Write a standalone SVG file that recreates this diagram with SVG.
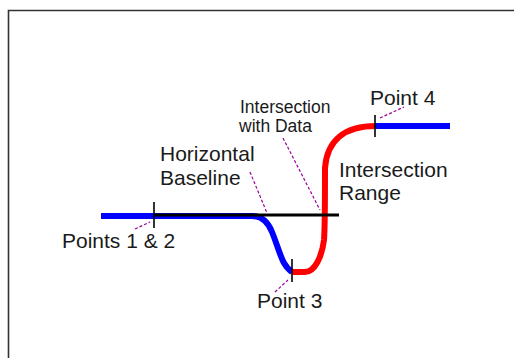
<svg xmlns="http://www.w3.org/2000/svg" width="514" height="358" viewBox="0 0 514 358">
<style>
text{font-family:"Liberation Sans",Arial,sans-serif;fill:#1a1a1a}
.big{font-size:21px}
.small{font-size:17.5px}
.blue{fill:none;stroke:#0000ff;stroke-width:6}
.red{fill:none;stroke:#ff0000;stroke-width:6}
.tick{stroke:#000;stroke-width:1.6}
.lead{stroke:#990099;stroke-width:1.2;stroke-dasharray:3 2;fill:none}
</style>
<rect x="0" y="0" width="514" height="358" fill="#fff"/>
<path d="M8.5 360 V10.5 H520" fill="none" stroke="#333" stroke-width="1.6"/>
<g id="curve">
<path class="blue" d="M101 216 H252 C262 216 268 222 272 232 C277 244 280 256 284 263 C287 268 289 270 292 272"/>
<path class="red" d="M292 272 H305 C315 272 322 256 324 240 C325 228 325 200 325 168 C327 140 345 126 376 126"/>
<path class="blue" d="M375 126 H450"/>
<line x1="154" y1="215" x2="339" y2="215" stroke="#000" stroke-width="3"/>
</g>
<g id="ticks">
<line class="tick" x1="154" y1="202" x2="154" y2="228"/>
<line class="tick" x1="292" y1="259" x2="292" y2="282"/>
<line class="tick" x1="375" y1="115" x2="375" y2="137"/>
</g>
<g id="connectors">
<line class="lead" x1="135" y1="229" x2="150" y2="222"/>
<line class="lead" x1="250" y1="172" x2="267" y2="213"/>
<line class="lead" x1="283" y1="138" x2="320" y2="210"/>
<line class="lead" x1="275" y1="292" x2="288" y2="280"/>
<line class="lead" x1="380" y1="118" x2="404" y2="107"/>
</g>
<g id="points12"><text class="big" x="62" y="248">Points 1 &amp; 2</text></g>
<g id="baseline"><text class="big" x="160" y="161">Horizontal</text><text class="big" x="160" y="185">Baseline</text></g>
<g id="intersection-data"><text class="small" x="240" y="113">Intersection</text><text class="small" x="239" y="132">with Data</text></g>
<g id="intersection-range"><text class="big" x="339" y="177">Intersection</text><text class="big" x="339" y="200">Range</text></g>
<g id="point3"><text class="big" x="257" y="308">Point 3</text></g>
<g id="point4"><text class="big" x="370" y="105">Point 4</text></g>
</svg>
